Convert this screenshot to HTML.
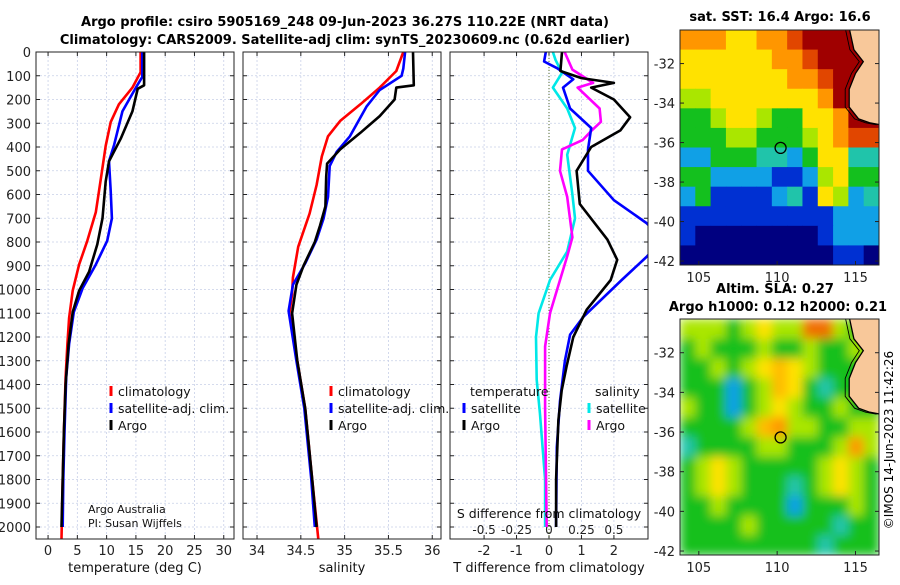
<!DOCTYPE html>
<html><head><meta charset="utf-8"><style>
body{margin:0;background:#fff;width:900px;height:580px;overflow:hidden}
svg{font-family:"DejaVu Sans","Liberation Sans",sans-serif}
</style></head><body>
<svg id="c" width="900" height="580" viewBox="0 0 900 580" xmlns="http://www.w3.org/2000/svg">
<defs><filter id="blur" x="0" y="0" width="1" height="1"><feGaussianBlur stdDeviation="5"/></filter></defs>
<text x="345" y="26" font-size="13" font-weight="bold" text-anchor="middle">Argo profile: csiro 5905169_248 09-Jun-2023 36.27S 110.22E (NRT data)</text>
<text x="345" y="44" font-size="13" font-weight="bold" text-anchor="middle">Climatology: CARS2009. Satellite-adj clim: synTS_20230609.nc (0.62d earlier)</text>
<text x="780" y="21" font-size="13" font-weight="bold" text-anchor="middle">sat. SST: 16.4 Argo: 16.6</text>
<text x="775" y="293" font-size="13" font-weight="bold" text-anchor="middle">Altim. SLA: 0.27</text>
<text x="778" y="311" font-size="13" font-weight="bold" text-anchor="middle">Argo h1000: 0.12 h2000: 0.21</text>
<text transform="translate(893,440) rotate(-90)" font-size="12" text-anchor="middle">©IMOS 14-Jun-2023 11:42:26</text>
<g id="g"></g>
</svg>
<script>
// ---- data ----
const depthTicks=[0,100,200,300,400,500,600,700,800,900,1000,1100,1200,1300,1400,1500,1600,1700,1800,1900,2000];
const tTicks=[0,5,10,15,20,25,30];
const sTicks=[34,34.5,35,35.5,36];
const sTickLabels=["34","34.5","35","35.5","36"];
const dTTicks=[-2,-1,0,1,2];
const dSTickLabels=["-0.5","-0.25","0","0.25","0.5"];
const dSTicks=[-0.5,-0.25,0,0.25,0.5];
const climTDepth=[0,85,150,220,295,395,535,675,795,895,1005,1120,1230,1370,1600,1800,2050];
const climT=[15.8,15.8,14.4,12.1,10.7,9.85,9.0,8.15,6.7,5.3,4.2,3.6,3.3,3.0,2.7,2.5,2.3];
const satTDepth=[0,105,150,250,390,460,585,700,795,895,995,1095,1230,1370,1600,1800,2000];
const satT=[16.1,16.1,15.0,12.7,11.3,10.4,10.7,10.9,10.1,8.15,5.9,4.4,3.6,3.1,2.8,2.6,2.5];
const argoTDepth=[0,140,155,250,365,460,545,700,810,925,1005,1095,1230,1400,1600,1800,2000];
const argoT=[16.4,16.4,15.3,14.4,12.4,10.4,9.85,9.3,8.4,7.0,5.3,4.2,3.5,3.0,2.7,2.5,2.3];
const climSDepth=[0,80,150,220,290,355,440,560,680,820,950,1020,1100,1300,1500,1800,2050];
const climS=[35.67,35.59,35.40,35.18,34.95,34.81,34.74,34.68,34.60,34.47,34.41,34.40,34.37,34.46,34.55,34.63,34.7];
const satSDepth=[0,70,100,160,230,355,420,480,610,700,790,890,980,1090,1300,1500,1800,2000];
const satS=[35.69,35.67,35.65,35.40,35.25,35.06,34.91,34.83,34.81,34.76,34.68,34.55,34.41,34.36,34.45,34.54,34.62,34.66];
const argoSDepth=[0,140,150,200,270,340,410,470,525,650,730,800,900,980,1100,1300,1500,1800,2000];
const argoS=[35.78,35.79,35.59,35.57,35.40,35.18,34.95,34.80,34.79,34.78,34.72,34.66,34.53,34.45,34.40,34.46,34.55,34.63,34.68];
const argoDTDepth=[0,80,110,130,150,200,275,330,400,500,640,790,875,960,1085,1200,1325,1425,1550,1800,2000];
const argoDT=[0.4,0.35,1.0,2.0,1.3,2.0,2.5,2.2,1.3,0.85,0.95,1.8,2.1,1.9,1.16,0.75,0.54,0.39,0.29,0.22,0.22];
const satDTDepth=[0,40,68,115,150,238,320,410,500,624,720,790,863,960,1115,1190,1300,1470,1665,2000];
const satDT=[-0.1,-0.15,0.25,0.75,0.43,0.65,1.3,1.2,1.2,2.0,3.0,3.5,3.0,2.24,1.06,0.65,0.49,0.34,0.24,0.22];
const satDSDepth=[0,33,88,150,238,320,433,600,700,840,960,1100,1200,1380,1520,1800,2000];
const satDS=[0.03,0.05,0.1,0.03,0.14,0.2,0.14,0.18,0.2,0.14,0.008,-0.08,-0.1,-0.095,-0.07,-0.03,-0.03];
const argoDSDepth=[0,74,130,150,238,294,330,370,410,500,610,780,860,960,1100,1240,1500,2000];
const argoDS=[0.12,0.18,0.34,0.22,0.39,0.4,0.33,0.26,0.1,0.085,0.14,0.18,0.14,0.085,0.008,-0.03,-0.03,-0.018];
const lonTicks=[105,110,115];
const latTicks=[-32,-34,-36,-38,-40,-42];
const sstGrid=[
[6,6,6,5,5,6,6,7,8,8,8,8,-1],
[5,5,5,5,5,5,6,6,7,8,8,8,-1],
[5,5,5,5,5,5,5,6,6,7,8,8,-1],
[4,4,5,5,5,5,5,5,5,6,8,8,-1],
[3,3,4,5,5,4,3,3,5,5,6,8,8],
[3,3,3,4,4,3,3,3,4,5,6,7,7],
[2,2,3,3,3,2.5,2.5,2,3,5,5,2.5,2.5],
[3,3,2,2,2,2,1,1,2,4,5,3,3],
[2,3,1,1,1,1,2,2.5,1,5,4,2,2.5],
[1,1,1,1,1,1,1,1,1,1,2,2,2],
[1,0,0,0,0,0,0,0,0,1,2,2,2],
[0,0,0,0,0,0,0,0,0,0,1,1,0]];
const slaGrid=[
[4,4,4,3,4,5,4,4,6.5,6.5,4,3,-1],
[3,4,3,3,3,4,3,3,4,3,3,4,-1],
[3,3,4,3,4,5,5.5,5,4,3,3,3,-1],
[3,3,3,2,3,4,5.5,5,3,2.5,3,3,-1],
[4,3,3,2,3,4,5,4,3,3,4,3,3],
[3,3,3,3,4,5.5,6,4,4,3,3,4,4],
[2.5,3,3,3,3,4,4,3,3,3,4,6,4],
[3,4,5,4,3,3,3,3,3,4,5,4,3],
[3,4,5,4,3,3,3,2.5,3,4,5,4,3],
[3,3,4,3,3,3,3,2,3,3,3,4,3],
[3,3,3,3,4,3,3,3,3,3,2.5,3,3],
[3,3,3,3,3,3,3,3,3,2.5,3,3,3]];
const coastLon=[114.6,114.9,115.5,115.0,114.6,114.6,115.2,115.9,116.6];
const coastLat=[-30.2,-31.3,-31.9,-32.5,-33.3,-34.2,-34.8,-35.0,-35.1];
const floatLon=110.22, floatLat=-36.27;

// ---- drawing ----
const NS="http://www.w3.org/2000/svg";
const G=document.getElementById('g');
function el(t,a,p){const e=document.createElementNS(NS,t);for(const k in a)e.setAttribute(k,a[k]);(p||G).appendChild(e);return e;}
const Y0=52,YK=0.2375,YB=539;
const yD=d=>Y0+d*YK;
const panels=[{x0:36,x1:234,v0:-2.06,v1:31.75},{x0:243,x1:441,v0:33.84,v1:36.1},{x0:450,x1:648,v0:-3.05,v1:3.05}];
const xs=(p,v)=>p.x0+(v-p.v0)/(p.v1-p.v0)*(p.x1-p.x0);
const xDS=v=>xs(panels[2],v*4);
const pnames=['temperature-panel','salinity-panel','difference-panel'];
panels.forEach((p,i)=>{
  const g=el('g',{});
  
  
  p.g=g;
  const cp=el('clipPath',{id:'cp'+i});el('rect',{x:p.x0,y:Y0,width:p.x1-p.x0,height:YB-Y0},cp);
  depthTicks.forEach(d=>{
    const l=el('line',{x1:p.x0,x2:p.x1,y1:yD(d),y2:yD(d),stroke:'#c8d0e8','stroke-width':0.8,'stroke-dasharray':'2,2'},g);
    
    
    el('line',{x1:p.x0,x2:p.x0+4,y1:yD(d),y2:yD(d),stroke:'#222'},g);
    el('line',{x1:p.x1-4,x2:p.x1,y1:yD(d),y2:yD(d),stroke:'#222'},g);
    if(i===0){const t=el('text',{x:31,y:yD(d)+5,'font-size':13,'text-anchor':'end',fill:'#222'},g);t.textContent=d;
      
      }
  });
});
function vgrid(p,vals,labels,ly){
  vals.forEach((v,k)=>{const x=xs(p,v);
    el('line',{x1:x,x2:x,y1:Y0,y2:YB,stroke:'#c8d0e8','stroke-width':0.8,'stroke-dasharray':'2,2'},p.g);
    el('line',{x1:x,x2:x,y1:YB-4,y2:YB,stroke:'#222'},p.g);
    el('line',{x1:x,x2:x,y1:Y0,y2:Y0+4,stroke:'#222'},p.g);
    if(ly){const t=el('text',{x:x,y:ly,'font-size':13,'text-anchor':'middle',fill:'#222'},p.g);t.textContent=labels[k];
      
      }
  });
}
vgrid(panels[0],tTicks,tTicks,555);
vgrid(panels[1],sTicks,sTickLabels,555);
vgrid(panels[2],dTTicks,dTTicks.map(v=>v<0?'-'+Math.abs(v):''+v),555);
dSTicks.forEach((v,k)=>{const t=el('text',{x:xDS(v),y:534,'font-size':12,'text-anchor':'middle',fill:'#222'},panels[2].g);t.textContent=dSTickLabels[k];
  
  });
el('line',{x1:xs(panels[2],0),x2:xs(panels[2],0),y1:Y0,y2:YB,stroke:'#556b2f','stroke-width':1,'stroke-dasharray':'1,2'},panels[2].g);
function curve(pi,vals,deps,col,name,fx){
  const p=panels[pi];
  const pts=vals.map((v,k)=>(fx?fx(v):xs(p,v)).toFixed(1)+','+yD(deps[k]).toFixed(1)).join(' ');
  const l=el('polyline',{points:pts,fill:'none',stroke:col,'stroke-width':2.6,'stroke-linejoin':'round','clip-path':'url(#cp'+pi+')'},p.g);
  
  
}
curve(0,climT,climTDepth,'#ff0000','climatology-temperature-line');
curve(0,satT,satTDepth,'#0000ff','satellite-temperature-line');
curve(0,argoT,argoTDepth,'#000','argo-temperature-line');
curve(1,climS,climSDepth,'#ff0000','climatology-salinity-line');
curve(1,satS,satSDepth,'#0000ff','satellite-salinity-line');
curve(1,argoS,argoSDepth,'#000','argo-salinity-line');
curve(2,satDS,satDSDepth,'#00e8e8','satellite-s-diff-line',xDS);
curve(2,argoDS,argoDSDepth,'#ff00ff','argo-s-diff-line',xDS);
curve(2,satDT,satDTDepth,'#0000ff','satellite-t-diff-line');
curve(2,argoDT,argoDTDepth,'#000','argo-t-diff-line');
panels.forEach(p=>el('rect',{x:p.x0,y:Y0,width:p.x1-p.x0,height:YB-Y0,fill:'none',stroke:'#222','stroke-width':1},p.g));
function txt(x,y,s,size,name,anchor){const t=el('text',{x:x,y:y,'font-size':size,'text-anchor':anchor||'start',fill:'#111'});t.textContent=s;
  
  return t;}
function leg(mx,y,col,label,name){el('rect',{x:mx-1.5,y:y-10,width:3,height:10,fill:col});txt(mx+7,y,label,12.5,name);}
leg(111,396,'#ff0000','climatology','legend-climatology');leg(111,413,'#0000ff','satellite-adj. clim.','legend-satellite');leg(111,430,'#000','Argo','legend-argo');
leg(331,396,'#ff0000','climatology','legend-climatology-s');leg(331,413,'#0000ff','satellite-adj. clim.','legend-satellite-s');leg(331,430,'#000','Argo','legend-argo-s');
txt(470,396,'temperature',12.5,'legend-temperature-header');txt(595,396,'salinity',12.5,'legend-salinity-header');
leg(464,413,'#0000ff','satellite','legend-t-satellite');leg(464,430,'#000','Argo','legend-t-argo');
leg(589,413,'#00e8e8','satellite','legend-s-satellite');leg(589,430,'#ff00ff','Argo','legend-s-argo');
txt(88,513,'Argo Australia',11,'credit-line-1');txt(88,527,'PI: Susan Wijffels',11,'credit-line-2');
txt(135,572,'temperature (deg C)',13,'x-axis-title-temperature','middle');
txt(342,572,'salinity',13,'x-axis-title-salinity','middle');
txt(549,572,'T difference from climatology',13,'x-axis-title-t-diff','middle');
txt(549,518,'S difference from climatology',12.5,'x-axis-title-s-diff','middle');

// maps
const LON0=103.8,LON1=116.5,LAT0=-30.3,LAT1=-42.2;
const stops=[[0,[0,0,128]],[1,[0,48,210]],[2,[16,160,230]],[2.5,[32,196,170]],[3,[20,192,30]],[4,[170,230,0]],[5,[255,226,0]],[6,[255,150,0]],[7,[225,70,0]],[8,[160,0,0]]];
function cmap(v){if(v<0)return '#f8c89a';for(let k=1;k<stops.length;k++){if(v<=stops[k][0]){const a=stops[k-1],b=stops[k],t=(v-a[0])/(b[0]-a[0]);return 'rgb('+a[1].map((c,j)=>Math.round(c+(b[1][j]-c)*t)).join(',')+')';}}return 'rgb(160,0,0)';}
function map(grid,x0,x1,y0,y1,name,smooth){
  const g=el('g',{});
  
  
  const mx=l=>x0+(l-LON0)/(LON1-LON0)*(x1-x0), my=l=>y0+(l-LAT0)/(LAT1-LAT0)*(y1-y0);
  const rows=grid.length, cols=grid[0].length, cw=(x1-x0)/cols, ch=(y1-y0)/rows;
  const cg=el('g',smooth?{filter:'url(#blur)'}:{},g);
  grid.forEach((r,i)=>r.forEach((v,j)=>{const c=el('rect',{x:x0+j*cw,y:y0+i*ch,width:cw+0.5,height:ch+0.5,fill:cmap(v<0?3:v)},cg);
    
    }));
  const cid='mc'+name;const cpm=el('clipPath',{id:cid});el('rect',{x:x0,y:y0,width:x1-x0,height:y1-y0},cpm);
  const cpts=coastLon.map((l,k)=>mx(l).toFixed(1)+','+my(coastLat[k]).toFixed(1));
  el('polygon',{points:cpts.join(' ')+' '+x1+','+my(coastLat[coastLat.length-1])+' '+x1+','+y0,fill:'#f8c89a','clip-path':'url(#'+cid+')'},g);
  el('polyline',{points:cpts.join(' '),fill:'none',stroke:'#000','stroke-width':1.3,'clip-path':'url(#'+cid+')'},g);
  el('polyline',{points:coastLon.map((l,k)=>(mx(l)-4).toFixed(1)+','+my(coastLat[k]).toFixed(1)).join(' '),fill:'none',stroke:'#000','stroke-width':0.9,'clip-path':'url(#'+cid+')'},g);
  const fm=el('circle',{cx:mx(floatLon),cy:my(floatLat),r:5.5,fill:'none',stroke:'#000','stroke-width':1.3},g);
  
  
  el('rect',{x:x0,y:y0,width:x1-x0,height:y1-y0,fill:'none',stroke:'#222'},g);
  lonTicks.forEach(l=>{el('line',{x1:mx(l),x2:mx(l),y1:y1,y2:y1-4,stroke:'#222'},g);
    const t=el('text',{x:mx(l),y:y1+17,'font-size':13,'text-anchor':'middle',fill:'#222'},g);t.textContent=l;
    
    });
  latTicks.forEach(l=>{el('line',{x1:x0,x2:x0+4,y1:my(l),y2:my(l),stroke:'#222'},g);el('line',{x1:x1,x2:x1-4,y1:my(l),y2:my(l),stroke:'#222'},g);
    const t=el('text',{x:x0-5,y:my(l)+5,'font-size':13,'text-anchor':'end',fill:'#222'},g);t.textContent=l;
    
    });
}
map(sstGrid,680,879,30,265,'sst-map',false);
map(slaGrid,680,879,319,555,'sla-map',true);
</script>
</body></html>
